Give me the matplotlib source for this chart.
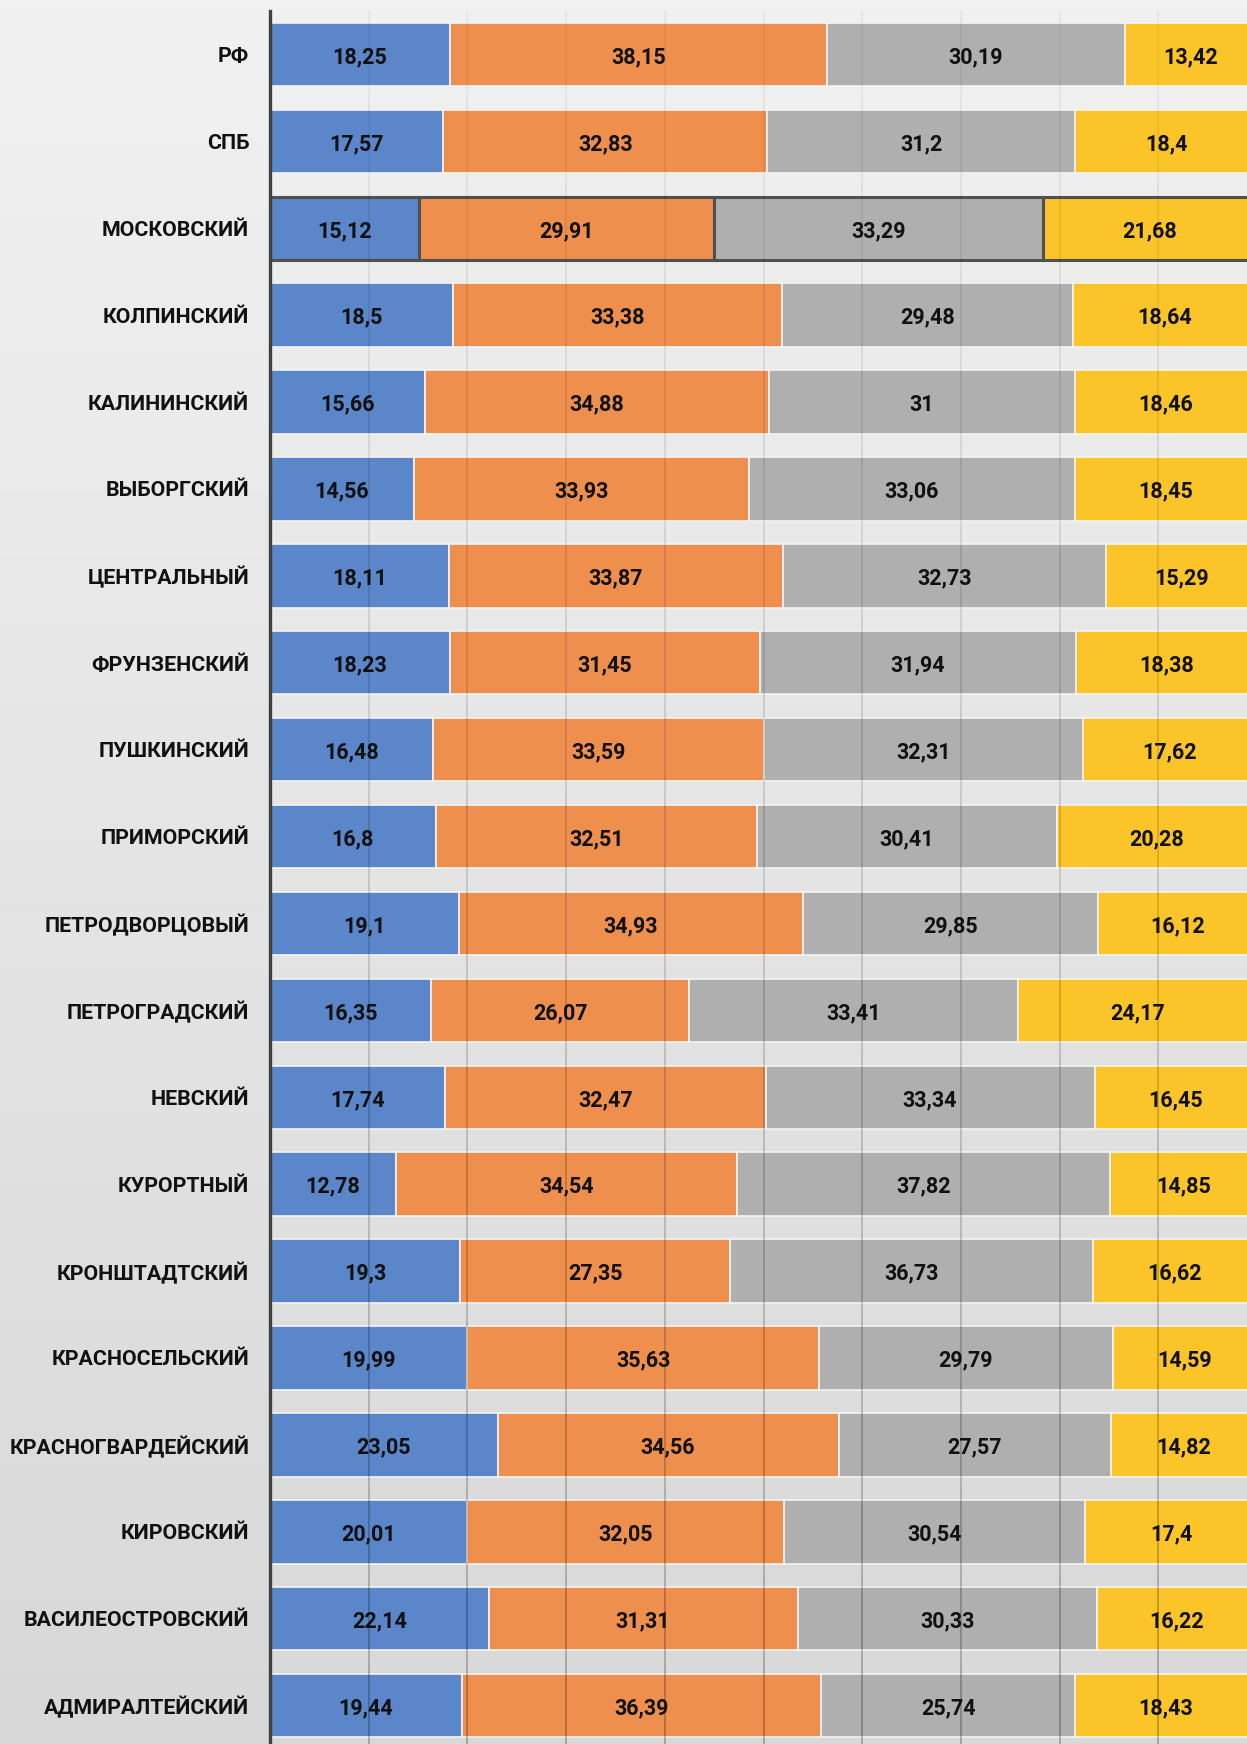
import matplotlib
matplotlib.use("Agg")
import matplotlib.pyplot as plt
import numpy as np

districts = [
    "РФ", "СПБ", "МОСКОВСКИЙ", "КОЛПИНСКИЙ", "КАЛИНИНСКИЙ", "ВЫБОРГСКИЙ",
    "ЦЕНТРАЛЬНЫЙ", "ФРУНЗЕНСКИЙ", "ПУШКИНСКИЙ", "ПРИМОРСКИЙ", "ПЕТРОДВОРЦОВЫЙ",
    "ПЕТРОГРАДСКИЙ", "НЕВСКИЙ", "КУРОРТНЫЙ", "КРОНШТАДТСКИЙ", "КРАСНОСЕЛЬСКИЙ",
    "КРАСНОГВАРДЕЙСКИЙ", "КИРОВСКИЙ", "ВАСИЛЕОСТРОВСКИЙ", "АДМИРАЛТЕЙСКИЙ",
]
blue = [18.25, 17.57, 15.12, 18.5, 15.66, 14.56, 18.11, 18.23, 16.48, 16.8,
        19.1, 16.35, 17.74, 12.78, 19.3, 19.99, 23.05, 20.01, 22.14, 19.44]
orange = [38.15, 32.83, 29.91, 33.38, 34.88, 33.93, 33.87, 31.45, 33.59, 32.51,
          34.93, 26.07, 32.47, 34.54, 27.35, 35.63, 34.56, 32.05, 31.31, 36.39]
grey = [30.19, 31.2, 33.29, 29.48, 31, 33.06, 32.73, 31.94, 32.31, 30.41,
        29.85, 33.41, 33.34, 37.82, 36.73, 29.79, 27.57, 30.54, 30.33, 25.74]
yellow = [13.42, 18.4, 21.68, 18.64, 18.46, 18.45, 15.29, 18.38, 17.62, 20.28,
          16.12, 24.17, 16.45, 14.85, 16.62, 14.59, 14.82, 17.4, 16.22, 18.43]

series = [blue, orange, grey, yellow]
colors = ["#5b86c9", "#ee8f4e", "#afafaf", "#fbc52a"]
highlight = "МОСКОВСКИЙ"
FONT = ["Roboto", "DejaVu Sans"]

W, H = 1247, 1744
fig = plt.figure(figsize=(W / 100, H / 100), dpi=100)

# background gradient
bg = fig.add_axes([0, 0, 1, 1], zorder=0)
grad = np.linspace(0, 1, 256).reshape(-1, 1)
bg.imshow(grad, aspect="auto", cmap=matplotlib.colors.LinearSegmentedColormap.from_list(
    "bg", ["#f1f1f1", "#d8d8d8"]), extent=[0, 1, 0, 1], origin="upper")
bg.axis("off")

left = 270 / W
top = 11 / H
ax = fig.add_axes([left, 0, 1 - left, 1 - top], zorder=1)
ax.set_facecolor("none")

y = np.arange(len(districts))
start = np.zeros(len(districts))
for vals, c in zip(series, colors):
    vals = np.array(vals, dtype=float)
    edge = ["#505050" if d == highlight else "#f4f4f4" for d in districts]
    lw = [2.2 if d == highlight else 1.2 for d in districts]
    ax.barh(y, vals, left=start, height=0.73, color=c,
            edgecolor=edge, linewidth=lw, zorder=2)
    for yi, s, v in zip(y, start, vals):
        ax.text(s + v / 2, yi + 0.03, f"{v:g}".replace(".", ","), ha="center",
                va="center", fontsize=15.5, fontweight="bold", family=FONT,
                color="#111111", zorder=4)
    start = start + vals

xmax = (W - 270) / 98.7 * 10
ax.set_xlim(0, xmax)
ax.set_ylim((H - 54.5) / 86.9, -0.5)

# gridlines drawn over the bars, getting darker towards the bottom
for gx in np.arange(10, 100, 10):
    for i in range(len(districts)):
        a = 0.05 + 0.22 * i / (len(districts) - 1)
        ax.plot([gx, gx], [i - 0.5, i + 0.5], color="#000000", alpha=a,
                lw=1.2, zorder=3, solid_capstyle="butt")

ax.set_yticks(y)
ax.set_yticklabels(districts, fontsize=15.4, fontweight="bold",
                   family=FONT, color="#111111")
ax.tick_params(axis="y", length=0, pad=15)
ax.set_xticks([])
for s in ["top", "right", "bottom"]:
    ax.spines[s].set_visible(False)
ax.spines["left"].set_color("#404040")
ax.spines["left"].set_linewidth(2.4)
ax.spines["left"].set_zorder(5)

fig.savefig("out.png", dpi=100)
